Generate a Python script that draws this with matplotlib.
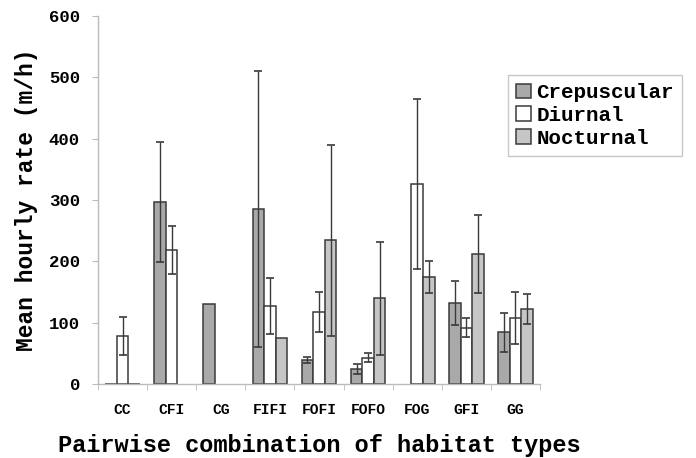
import numpy as np
import matplotlib
matplotlib.use("Agg")
import matplotlib.pyplot as plt

categories = ["CC", "CFI", "CG", "FIFI", "FOFI", "FOFO", "FOG", "GFI", "GG"]
crepuscular = [0, 297, 131, 285, 39, 24, np.nan, 132, 84]
crepuscular_err = [0, 98, 0, 225, 5, 8, 0, 36, 32]
diurnal = [79, 218, np.nan, 127, 117, 43, 326, 92, 108]
diurnal_err = [31, 39, 0, 46, 33, 7, 138, 15, 42]
nocturnal = [0, np.nan, np.nan, 75, 234, 140, 175, 212, 122]
nocturnal_err = [0, 0, 0, 0, 155, 92, 26, 64, 24]
series_names = ["Crepuscular", "Diurnal", "Nocturnal"]

font = ["Liberation Mono", "DejaVu Sans Mono"]
plt.rcParams['font.family'] = font
plt.rcParams['font.weight'] = 'bold'

fig = plt.figure(figsize=(6.96, 4.58), dpi=100)
ax = fig.add_axes([98/696, 1 - 384/458, (540-98)/696, (384-16)/458])

x = np.arange(len(categories))
w = 0.235
colors = ["#a9a9a9", "#ffffff", "#c6c6c6"]
edge = "#3a3a3a"
series = [(crepuscular, crepuscular_err), (diurnal, diurnal_err), (nocturnal, nocturnal_err)]
for i, ((vals, errs), name, c) in enumerate(zip(series, series_names, colors)):
    vals = np.array(vals, dtype=float)
    errs = np.array(errs, dtype=float)
    xi = x + (i - 1) * w
    ax.bar(xi, vals, width=w, color=c, edgecolor=edge, linewidth=1.1, label=name)
    m = (~np.isnan(vals)) & (errs > 0)
    ax.errorbar(xi[m], vals[m], yerr=errs[m], fmt='none', ecolor=edge,
                elinewidth=1.0, capsize=3, capthick=1.2)

ax.set_xlim(-0.5, len(categories) - 0.5)
ax.set_ylim(0, 600)
ax.set_yticks([0, 100, 200, 300, 400, 500, 600])
ax.set_xticks(x)
ax.set_xticklabels(categories, fontsize=10.5, fontweight='bold')
ax.tick_params(axis='x', length=0, pad=14)
ax.set_xticks(np.arange(len(categories) + 1) - 0.5, minor=True)
ax.tick_params(axis='x', which='minor', length=4, color="#bbbbbb", direction='out')
ax.tick_params(axis='y', length=4, color="#bbbbbb", labelsize=12.5, pad=9)
for lab in ax.get_yticklabels():
    lab.set_fontweight('bold')
for s in ["top", "right"]:
    ax.spines[s].set_visible(False)
for s in ["left", "bottom"]:
    ax.spines[s].set_color("#bbbbbb")
    ax.spines[s].set_linewidth(1.0)

ax.set_ylabel("Mean hourly rate (m/h)", fontsize=16.5, fontweight='bold', labelpad=8)
ax.set_xlabel("Pairwise combination of habitat types", fontsize=17, fontweight='bold', labelpad=12)

leg = ax.legend(loc='upper left', bbox_to_anchor=(508/696, 1 - 75/458), bbox_transform=fig.transFigure,
                fontsize=15, frameon=True, fancybox=False, handlelength=0.72, handleheight=0.72,
                handletextpad=0.25, borderpad=0.4, labelspacing=0.18, borderaxespad=0)
leg.get_frame().set_edgecolor("#bbbbbb")
leg.get_frame().set_linewidth(1.0)
for t in leg.get_texts():
    t.set_fontweight('bold')

fig.savefig("out.png", dpi=100)
